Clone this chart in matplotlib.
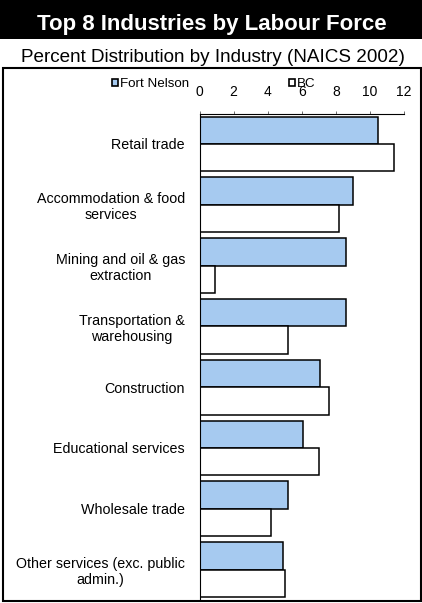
import matplotlib
matplotlib.use('Agg')
import matplotlib.pyplot as plt
from matplotlib.patches import Rectangle, Patch
import numpy as np

plt.rcParams['font.family'] = ['Liberation Sans', 'DejaVu Sans']

industries = ['Retail trade',
              'Accommodation & food\nservices',
              'Mining and oil & gas\nextraction',
              'Transportation &\nwarehousing',
              'Construction',
              'Educational services',
              'Wholesale trade',
              'Other services (exc. public\nadmin.)']
fort_nelson = [10.5, 9.0, 8.6, 8.6, 7.1, 6.1, 5.2, 4.9]
bc = [11.4, 8.2, 0.9, 5.2, 7.6, 7.0, 4.2, 5.0]
xticks = [0, 2, 4, 6, 8, 10, 12]

W, H = 422, 603
fig = plt.figure(figsize=(W/100., H/100.), dpi=100)

def fx(px):
    return px/float(W)

def fy(py):
    return 1 - py/float(H)

# black title band
fig.patches.append(Rectangle((0, fy(39)), 1, 39./H, transform=fig.transFigure,
                             facecolor='black', edgecolor='none', zorder=0))
fig.text(fx(212), fy(30), 'Top 8 Industries by Labour Force', color='white',
         fontsize=16.0, fontweight='bold', ha='center', va='baseline')
fig.text(fx(213), fy(62.5), 'Percent Distribution by Industry (NAICS 2002)',
         fontsize=13.6, ha='center', va='baseline')

# frame around the chart
fig.patches.append(Rectangle((fx(3), fy(601)), fx(421)-fx(3), (601-67.5)/H,
                             transform=fig.transFigure, facecolor='none',
                             edgecolor='black', linewidth=1.5, zorder=5))

ax = fig.add_axes([fx(199.5), fy(600), fx(404)-fx(199.5), (600-113.5)/H])
y = np.arange(len(industries))
h = 0.45
ax.barh(y - h/2, fort_nelson, height=h, color='#a6caf0', edgecolor='black',
        linewidth=1.1)
ax.barh(y + h/2, bc, height=h, color='white', edgecolor='black',
        linewidth=1.1)

ax.set_xlim(0, 12)
ax.set_ylim(7.5, -0.5)
ax.set_xticks(xticks)
ax.xaxis.tick_top()
ax.tick_params(axis='x', direction='out', length=2.2, pad=8.5, labelsize=10,
               width=0.6, color='#555555')
ax.set_yticks(y)
ax.set_yticklabels(industries, fontsize=10.3, multialignment='center')
ax.tick_params(axis='y', length=0, pad=10.4)
ax.spines['right'].set_visible(False)
ax.spines['bottom'].set_visible(False)

# legend entries sit among the tick labels, as in the original
legstyle = dict(loc='center left', frameon=False, fontsize=9.6, borderpad=0,
                borderaxespad=0, handlelength=0.45, handleheight=0.45,
                handletextpad=0.15)
fig.legend(handles=[Patch(facecolor='#a6caf0', edgecolor='black', linewidth=1.2)],
           labels=['Fort Nelson'], bbox_to_anchor=(fx(112), fy(84)), **legstyle)
fig.legend(handles=[Patch(facecolor='white', edgecolor='black', linewidth=1.2)],
           labels=['BC'], bbox_to_anchor=(fx(289), fy(84)), **legstyle)

fig.savefig('out.png', dpi=100)
